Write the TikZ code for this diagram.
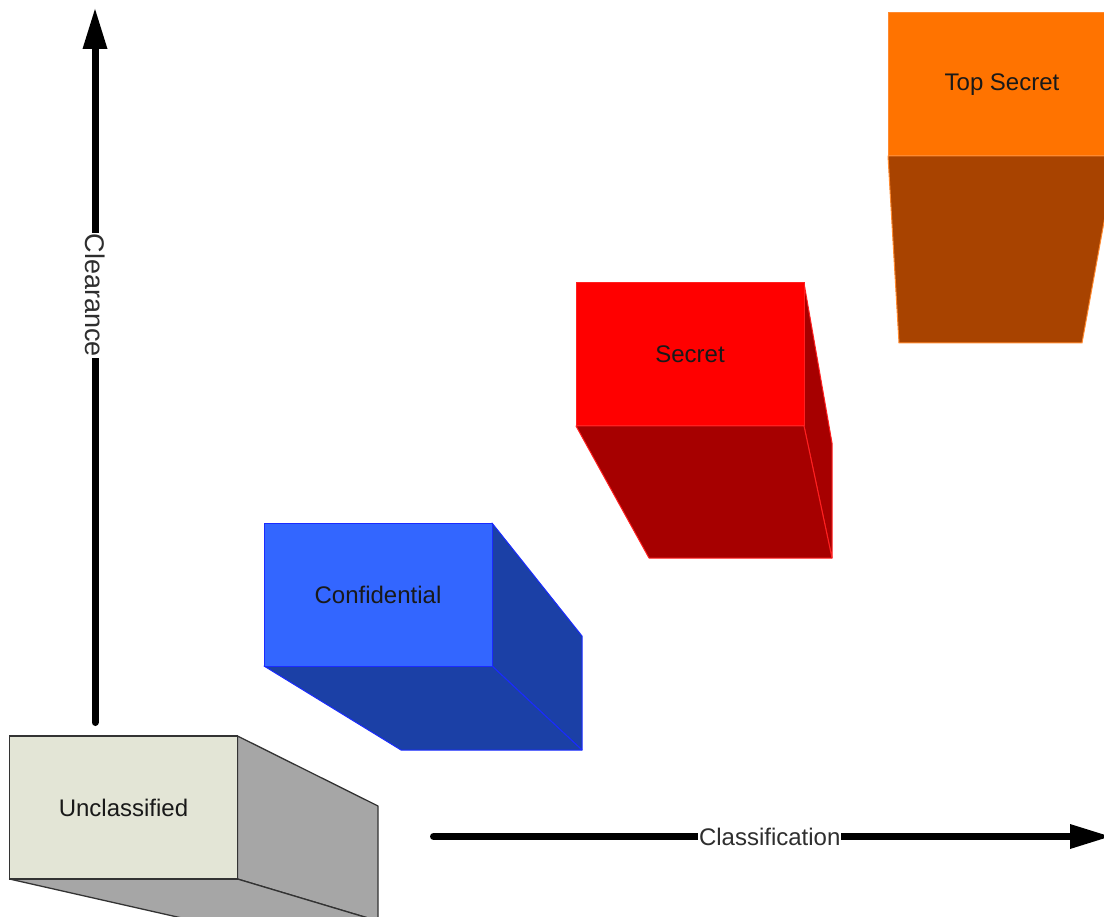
\documentclass[tikz,border=0pt]{standalone}
\usepackage{fontspec}
\setmainfont{Liberation Sans}
\usetikzlibrary{arrows.meta}

\pgfdeclarelayer{faces}
\pgfsetlayers{faces,main}

\definecolor{uncFront}{HTML}{E3E5D6}
\definecolor{uncSide}{HTML}{A6A6A6}
\definecolor{uncLine}{HTML}{333333}
\definecolor{conFront}{HTML}{3366FF}
\definecolor{conSide}{HTML}{1B40A6}
\definecolor{conLine}{HTML}{1A2BFF}
\definecolor{secFront}{HTML}{FF0000}
\definecolor{secSide}{HTML}{A60000}
\definecolor{secLine}{HTML}{FF2020}
\definecolor{topFront}{HTML}{FF7300}
\definecolor{topSide}{HTML}{A84300}
\definecolor{topLine}{HTML}{FF8A30}

\tikzset{
  front/.style={draw, line width=1pt, minimum width=228pt, minimum height=143pt,
    inner sep=0pt, outer sep=0pt, text=black!90,
    font=\fontsize{24}{28}\selectfont},
  face/.style={line width=1pt, line join=round},
  axis/.style={line width=7pt, line cap=round,
    -{Triangle[length=40pt,width=25pt,line width=0pt]}},
  axislabel/.style={fill=white, inner sep=1pt, text=black!82}
}

\begin{document}
\begin{tikzpicture}[x=1pt,y=-1pt]
\useasboundingbox (0,0) rectangle (1104,917);
\clip (0,0) rectangle (1104,917);

% ---- Unclassified ----
\node[front, fill=uncFront, draw=uncLine, line width=1.3pt] (unc) at (123.5,807.5) {Unclassified};
\coordinate (unc-tr) at (378,806);
\coordinate (unc-br) at (378,921);
\coordinate (unc-bl) at (195,921);
\begin{pgfonlayer}{faces}
  \filldraw[face, fill=uncSide, draw=uncLine, line width=1.3pt]
    (unc.north east) -- (unc-tr) -- (unc-br) -- (unc.south east) -- cycle;
  \filldraw[face, fill=uncSide, draw=uncLine, line width=1.3pt]
    (unc.south west) -- (unc.south east) -- (unc-br) -- (unc-bl) -- cycle;
\end{pgfonlayer}

% ---- Confidential ----
\node[front, fill=conFront, draw=conLine] (con) at (378,594.5) {Confidential};
\coordinate (con-tr) at (582,636);
\coordinate (con-br) at (582,750);
\coordinate (con-bl) at (401,750);
\begin{pgfonlayer}{faces}
  \filldraw[face, fill=conSide, draw=conLine]
    (con.north east) -- (con-tr) -- (con-br) -- (con.south east) -- cycle;
  \filldraw[face, fill=conSide, draw=conLine]
    (con.south west) -- (con.south east) -- (con-br) -- (con-bl) -- cycle;
\end{pgfonlayer}

% ---- Secret ----
\node[front, fill=secFront, draw=secLine] (sec) at (690,354.5) {Secret};
\coordinate (sec-tr) at (832,443);
\coordinate (sec-br) at (832,558);
\coordinate (sec-bl) at (649,558);
\begin{pgfonlayer}{faces}
  \filldraw[face, fill=secSide, draw=secLine]
    (sec.north east) -- (sec-tr) -- (sec-br) -- (sec.south east) -- cycle;
  \filldraw[face, fill=secSide, draw=secLine]
    (sec.south west) -- (sec.south east) -- (sec-br) -- (sec-bl) -- cycle;
\end{pgfonlayer}

% ---- Top Secret ----
\node[front, fill=topFront, draw=topLine] (top) at (1002,84.5) {Top Secret};
\coordinate (top-br) at (1082,343);
\coordinate (top-bl) at (899,343);
\begin{pgfonlayer}{faces}
  \filldraw[face, fill=topSide, draw=topLine]
    (top.south west) -- (top.south east) -- (top-br) -- (top-bl) -- cycle;
\end{pgfonlayer}

% ---- axes ----
\coordinate (clr-start) at (95,722.5);
\coordinate (clr-end) at (95,9);
\coordinate (cls-start) at (433.5,836.5);
\coordinate (cls-end) at (1110,836.5);

\draw[axis] (clr-start) -- node[pos=0.599, axislabel, rotate=-90,
  font=\fontsize{27}{30}\selectfont] (clr) {Clearance} (clr-end);
\draw[axis] (cls-start) -- node[pos=0.497, axislabel,
  font=\fontsize{24}{28}\selectfont] (cls) {Classification} (cls-end);
\end{tikzpicture}
\end{document}
